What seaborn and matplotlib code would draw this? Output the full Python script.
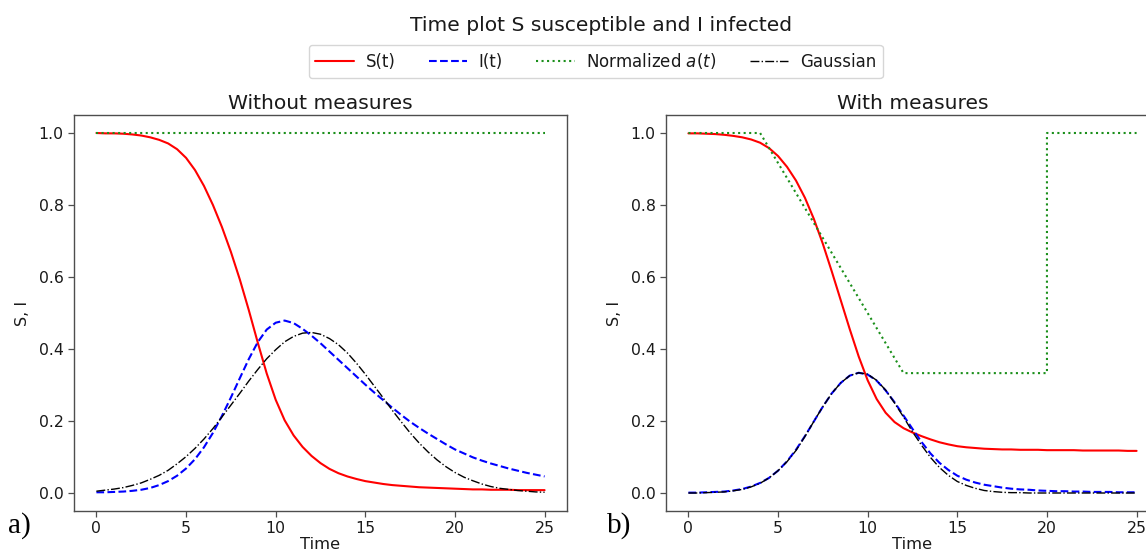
import numpy as np
import pandas as pd
import matplotlib
matplotlib.use("Agg")
import matplotlib.pyplot as plt
import seaborn as sns

# ---------------- data ----------------
time = np.arange(0, 25.01, 0.5)

# Panel a) Without measures
S_without = [1.000, 0.999, 0.999, 0.998, 0.996, 0.993, 0.988, 0.981, 0.971, 0.955,
             0.931, 0.897, 0.853, 0.800, 0.739, 0.670, 0.593, 0.508, 0.418, 0.332,
             0.259, 0.202, 0.160, 0.128, 0.103, 0.083, 0.067, 0.055, 0.046, 0.039,
             0.033, 0.029, 0.025, 0.022, 0.020, 0.018, 0.016, 0.015, 0.014, 0.013,
             0.012, 0.011, 0.010, 0.010, 0.009, 0.009, 0.009, 0.008, 0.008, 0.008, 0.008]
I_without = [0.002, 0.002, 0.003, 0.004, 0.006, 0.009, 0.014, 0.022, 0.033, 0.048,
             0.068, 0.094, 0.127, 0.167, 0.214, 0.265, 0.319, 0.372, 0.419, 0.454,
             0.473, 0.479, 0.472, 0.456, 0.437, 0.416, 0.393, 0.370, 0.347, 0.324,
             0.301, 0.279, 0.258, 0.237, 0.217, 0.198, 0.181, 0.165, 0.150, 0.135,
             0.121, 0.110, 0.099, 0.090, 0.082, 0.075, 0.068, 0.062, 0.056, 0.051, 0.046]
G_without = [0.005, 0.008, 0.011, 0.015, 0.021, 0.028, 0.038, 0.049, 0.063, 0.081,
             0.101, 0.124, 0.150, 0.179, 0.211, 0.244, 0.277, 0.311, 0.343, 0.373,
             0.398, 0.420, 0.435, 0.444, 0.446, 0.441, 0.429, 0.412, 0.389, 0.361,
             0.330, 0.297, 0.264, 0.230, 0.198, 0.167, 0.139, 0.114, 0.092, 0.073,
             0.057, 0.044, 0.034, 0.025, 0.018, 0.013, 0.010, 0.007, 0.005, 0.003, 0.002]
a_time_without = [0, 25]
a_without = [1.0, 1.0]

# Panel b) With measures
S_with = [0.999, 0.999, 0.998, 0.997, 0.995, 0.992, 0.988, 0.982, 0.973, 0.958,
          0.936, 0.906, 0.868, 0.820, 0.761, 0.692, 0.615, 0.535, 0.455, 0.379,
          0.313, 0.261, 0.223, 0.197, 0.180, 0.168, 0.158, 0.149, 0.141, 0.135,
          0.130, 0.127, 0.125, 0.123, 0.122, 0.121, 0.121, 0.120, 0.120, 0.120,
          0.119, 0.119, 0.119, 0.119, 0.118, 0.118, 0.118, 0.118, 0.118, 0.117, 0.117]
I_with = [0.001, 0.001, 0.002, 0.003, 0.004, 0.007, 0.011, 0.018, 0.028, 0.042,
          0.062, 0.088, 0.120, 0.158, 0.199, 0.240, 0.277, 0.306, 0.326, 0.334,
          0.329, 0.312, 0.285, 0.252, 0.215, 0.178, 0.142, 0.110, 0.084, 0.064,
          0.048, 0.037, 0.029, 0.023, 0.019, 0.015, 0.012, 0.010, 0.009, 0.007,
          0.006, 0.005, 0.005, 0.004, 0.004, 0.003, 0.003, 0.003, 0.002, 0.002, 0.002]
G_with = [0.000, 0.000, 0.001, 0.002, 0.003, 0.006, 0.010, 0.017, 0.027, 0.042,
          0.062, 0.087, 0.118, 0.157, 0.199, 0.240, 0.277, 0.306, 0.326, 0.334,
          0.330, 0.313, 0.286, 0.250, 0.211, 0.170, 0.133, 0.099, 0.071, 0.049,
          0.032, 0.021, 0.013, 0.007, 0.004, 0.002, 0.001, 0.001, 0.000, 0.000,
          0.000, 0.000, 0.000, 0.000, 0.000, 0.000, 0.000, 0.000, 0.000, 0.000, 0.000]
a_time_with = [0, 4, 12, 20, 20, 25]
a_with = [1.0, 1.0, 0.333, 0.333, 1.0, 1.0]

series_labels = ["S(t)", "I(t)", "Normalized $a(t)$", "Gaussian"]
panel_titles = ["Without measures", "With measures"]
panel_tags = ["a)", "b)"]
suptitle = "Time plot S susceptible and I infected"

# ---------------- style ----------------
sns.set_theme(style="ticks")
plt.rcParams["font.family"] = ["DejaVu Sans"]
plt.rcParams["mathtext.fontset"] = "dejavusans"
plt.rcParams["axes.edgecolor"] = "0.3"
plt.rcParams["axes.linewidth"] = 1.0
plt.rcParams["text.color"] = "0.1"
plt.rcParams["axes.labelcolor"] = "0.1"
plt.rcParams["xtick.color"] = "0.3"
plt.rcParams["ytick.color"] = "0.3"

W, H = 1146, 556
fig = plt.figure(figsize=(W / 100, H / 100), dpi=100)
ax1 = fig.add_axes([74 / W, 45 / H, 493 / W, 396 / H])
ax2 = fig.add_axes([666 / W, 45 / H, 493 / W, 396 / H])


def draw(ax, S, I, a_t, a_v, G, title):
    df = pd.DataFrame({"Time": time, "S": S, "I": I, "G": G})
    da = pd.DataFrame({"Time": a_t, "a": a_v})
    sns.lineplot(data=df, x="Time", y="S", ax=ax, color="#ff0000", linewidth=1.5,
                 label=series_labels[0], estimator=None, sort=False)
    sns.lineplot(data=df, x="Time", y="I", ax=ax, color="#0000ff", linewidth=1.5,
                 linestyle="--", label=series_labels[1], estimator=None, sort=False)
    sns.lineplot(data=da, x="Time", y="a", ax=ax, color="#1a8f1a", linewidth=1.5,
                 linestyle=":", label=series_labels[2], estimator=None, sort=False)
    sns.lineplot(data=df, x="Time", y="G", ax=ax, color="black", linewidth=1.0,
                 linestyle="-.", label=series_labels[3], estimator=None, sort=False)
    ax.set_xlim(-1.25, 26.25)
    ax.set_ylim(-0.05, 1.05)
    ax.set_xticks([0, 5, 10, 15, 20, 25])
    ax.set_yticks([0.0, 0.2, 0.4, 0.6, 0.8, 1.0])
    ax.set_yticklabels(["0.0", "0.2", "0.4", "0.6", "0.8", "1.0"])
    ax.tick_params(axis="both", labelsize=11.3, length=4.5, width=0.9, pad=3,
                   labelcolor="0.1")
    ax.set_xlabel("Time", fontsize=11.8, labelpad=0.5)
    ax.set_ylabel("S, I", fontsize=11.6, labelpad=6)
    ax.set_title(title, fontsize=14.6, pad=4.5, color="0.1")
    for sp in ax.spines.values():
        sp.set_visible(True)
        sp.set_color("0.3")


draw(ax1, S_without, I_without, a_time_without, a_without, G_without, panel_titles[0])
draw(ax2, S_with, I_with, a_time_with, a_with, G_with, panel_titles[1])

handles, labels = ax1.get_legend_handles_labels()
ax1.get_legend().remove()
ax2.get_legend().remove()

fig.legend(handles, labels, loc="center", bbox_to_anchor=(595.7 / W, 1 - 61.2 / H),
           ncol=4, fontsize=12, handlelength=2.3, handletextpad=0.7,
           columnspacing=2.0, frameon=True, fancybox=True, edgecolor="0.8",
           framealpha=0.8, borderpad=0.4)

fig.text(600.7 / W, 1 - 30.7 / H, suptitle, ha="center", va="baseline",
         fontsize=14.6, color="0.1")

fig.text(8 / W, 1 - 532.3 / H, panel_tags[0], ha="left", va="baseline",
         family="Liberation Serif", fontsize=21, color="black")
fig.text(606.7 / W, 1 - 532.3 / H, panel_tags[1], ha="left", va="baseline",
         family="Liberation Serif", fontsize=21, color="black")

fig.savefig("out.png", dpi=100)
